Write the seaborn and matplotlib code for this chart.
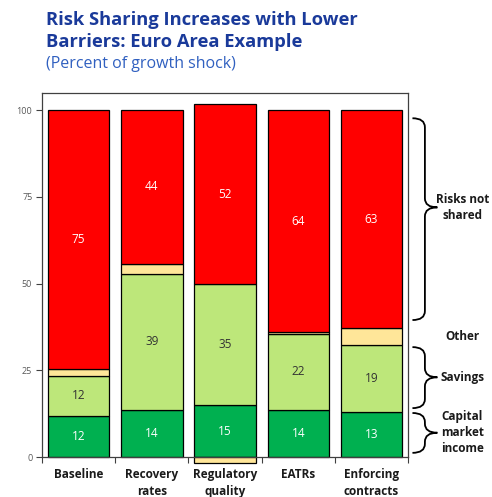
import numpy as np
import pandas as pd
import matplotlib
matplotlib.use("Agg")
import matplotlib.pyplot as plt
import seaborn as sns
from matplotlib.path import Path
from matplotlib.patches import PathPatch
import matplotlib.transforms as mtransforms

# ---- data ----
categories = ["Baseline", "Recovery\nrates", "Regulatory\nquality", "EATRs", "Enforcing\ncontracts"]
capital_market_income = [11.8, 13.7, 15.0, 13.6, 13.0]
savings = [11.6, 39.2, 35.0, 22.0, 19.3]
other = [2.1, 2.9, -1.7, 0.4, 4.8]
risks_not_shared = [74.6, 44.2, 51.7, 64.0, 62.9]
series_names = ["Capital market income", "Savings", "Other", "Risks not shared"]
yticks = [0, 25, 50, 75, 100]

# ---- style ----
sns.set_theme(style="white")
plt.rcParams["font.family"] = ["Open Sans", "DejaVu Sans"]

colors = ["#00B050", "#BDE77A", "#FFE699", "#FF0000"]
label_colors = ["white", "#333333", None, "white"]

fig = plt.figure(figsize=(4.92, 4.97), dpi=100)
ax = fig.add_axes([0.0854, 0.063, 0.744, 0.750])

layers = [capital_market_income, savings, other, risks_not_shared]
pos_base = np.zeros(len(categories))
neg_base = np.zeros(len(categories))
for name, vals, col, lc in zip(series_names, layers, colors, label_colors):
    vals = np.asarray(vals, dtype=float)
    bottoms = np.where(vals >= 0, pos_base, neg_base)
    df = pd.DataFrame({"category": categories, "value": vals})
    sns.barplot(data=df, x="category", y="value", order=categories, color=col,
                saturation=1, width=0.84, edgecolor="black", linewidth=0.9,
                bottom=bottoms, ax=ax, errorbar=None)
    if lc is not None:
        for i, v in enumerate(vals):
            ax.text(i, bottoms[i] + v / 2, f"{v:.0f}", ha="center", va="center",
                    color=lc, fontsize=8.5)
    pos_base = pos_base + np.where(vals >= 0, vals, 0)
    neg_base = neg_base + np.where(vals < 0, vals, 0)

ax.set_xlim(-0.5, 4.48)
ax.set_ylim(-2.5, 105)
ax.set_xlabel("")
ax.set_ylabel("")
ax.set_yticks(yticks)
ax.set_yticklabels([str(t) for t in yticks])
ax.tick_params(axis="y", direction="out", length=4, width=0.8, color="#404040",
               left=True, pad=3, labelsize=6.5, labelcolor="#595959")
ax.set_xticks(range(len(categories)))
ax.set_xticklabels(categories)
ax.tick_params(axis="x", which="major", length=0, pad=8, labelsize=8.5, labelcolor="#1a1a1a")
ax.set_xticks(np.arange(-0.5, len(categories), 1.0), minor=True)
ax.tick_params(axis="x", which="minor", direction="out", length=4, width=0.8,
               color="#404040", bottom=True)

for s in ["left", "right", "top", "bottom"]:
    ax.spines[s].set_visible(True)
    ax.spines[s].set_color("#404040")
    ax.spines[s].set_linewidth(0.9)
ax.spines["bottom"].set_position(("data", 0))
ax.spines["left"].set_bounds(0, 105)
ax.spines["right"].set_bounds(0, 105)

# ---- braces ----
trans = mtransforms.blended_transform_factory(ax.transAxes, ax.transData)

def brace(y0, y1, ym, x0=1.012, w=0.068, r=2.6):
    xm = x0 + w / 2
    verts = [(x0, y1), (xm, y1), (xm, y1 - r),
             (xm, ym + r), (xm, ym), (x0 + w, ym),
             (x0 + w, ym), (xm, ym), (xm, ym - r),
             (xm, y0 + r), (xm, y0), (x0, y0)]
    codes = [Path.MOVETO, Path.CURVE3, Path.CURVE3,
             Path.LINETO, Path.CURVE3, Path.CURVE3,
             Path.MOVETO, Path.CURVE3, Path.CURVE3,
             Path.LINETO, Path.CURVE3, Path.CURVE3]
    p = PathPatch(Path(verts, codes), transform=trans, fill=False,
                  edgecolor="black", linewidth=1.3, clip_on=False)
    ax.add_patch(p)

brace(39.5, 97.7, 72.0)
brace(14.1, 31.7, 23.0)
brace(1.2, 12.7, 7.0)

lx = 1.148
tk = dict(transform=trans, ha="center", va="center", fontsize=8.5,
          fontweight="bold", color="#1a1a1a", clip_on=False)
ax.text(lx, 72.0, "Risks not\nshared", linespacing=1.3, **tk)
ax.text(lx, 34.9, "Other", **tk)
ax.text(lx, 23.0, "Savings", **tk)
ax.text(lx, 7.0, "Capital\nmarket\nincome", linespacing=1.3, **tk)

# ---- titles ----
fig.text(0.093, 0.978, "Risk Sharing Increases with Lower\nBarriers: Euro Area Example",
         ha="left", va="top", fontsize=13.2, fontweight="bold", color="#1A3A9A",
         linespacing=1.3)
fig.text(0.093, 0.872, "(Percent of growth shock)", ha="left", va="center",
         fontsize=11.5, color="#3060C0")

fig.canvas.draw()
for lbl in ax.xaxis.get_majorticklabels():
    lbl.set_fontweight("bold")
    lbl.set_fontsize(8.5)
    lbl.set_linespacing(1.35)

fig.savefig("out.png", dpi=100)
